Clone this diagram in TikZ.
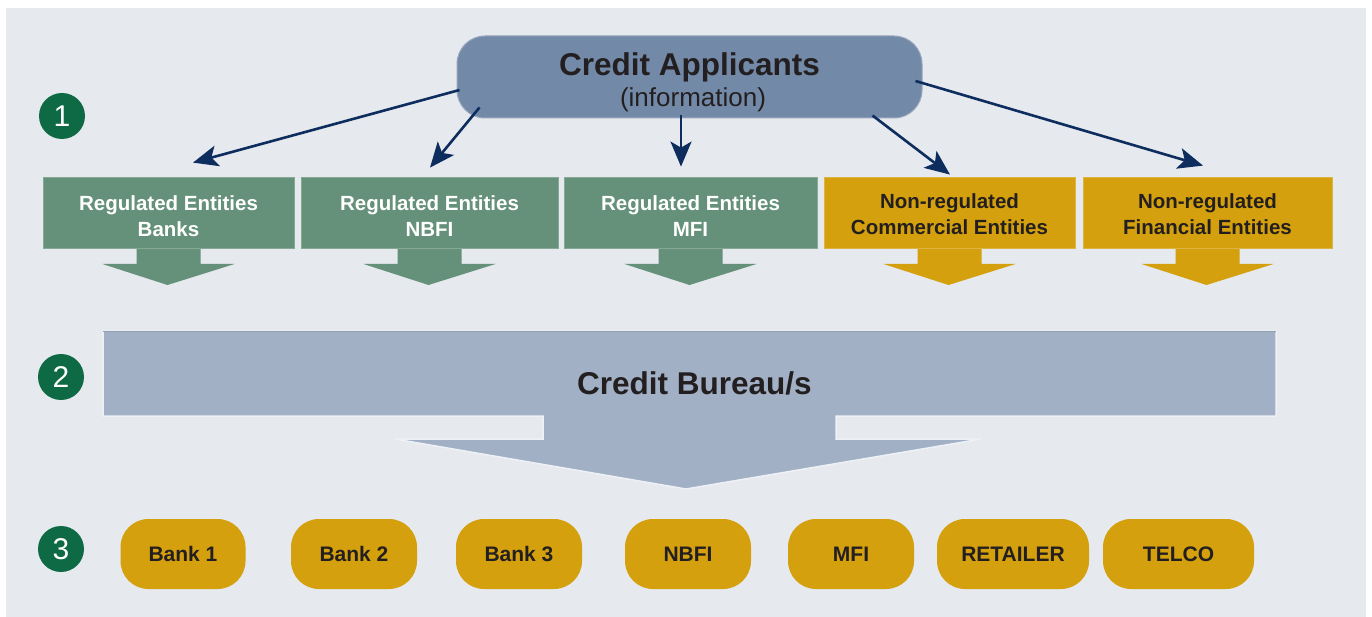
\documentclass[tikz,border=0pt]{standalone}
\usepackage{fontspec}
\setmainfont{Liberation Sans}
\usetikzlibrary{arrows.meta,calc}
\definecolor{bg}{HTML}{E6E9EE}
\definecolor{cafill}{HTML}{7389A8}
\definecolor{cabord}{HTML}{97A7BE}
\definecolor{grn}{HTML}{65917A}
\definecolor{grnb}{HTML}{86A996}
\definecolor{ylw}{HTML}{D4A00D}
\definecolor{ylwb}{HTML}{DDB443}
\definecolor{bur}{HTML}{A1B0C4}
\definecolor{burb}{HTML}{EEF1F5}
\definecolor{numc}{HTML}{0E6A44}
\definecolor{arrc}{HTML}{0D2D5E}
\definecolor{txt}{HTML}{231F20}
\tikzset{
  arr/.style={draw=arrc, line width=2.6pt, -{Stealth[length=25pt,width=21pt,inset=6pt]}},
  boxtxt/.style={font=\fontsize{20.5}{26}\selectfont\bfseries, align=center, inner sep=0pt},
  regbox/.style={rectangle, minimum height=71pt, fill=grn, draw=grnb, line width=0.8pt},
  nonbox/.style={rectangle, minimum height=71pt, fill=ylw, draw=ylwb, line width=0.8pt},
  pill/.style={rectangle, rounded corners=28pt, minimum height=70pt, fill=ylw, text=txt,
    font=\fontsize{21}{25}\selectfont\bfseries, inner sep=0pt},
  num/.style={circle, fill=numc, minimum size=46pt, inner sep=0pt, text=white,
    font=\fontsize{30}{30}\selectfont},
  capp/.style={rectangle, rounded corners=28pt, minimum width=465pt, minimum height=82pt,
    fill=cafill, draw=cabord, line width=1pt}
}
\begin{document}
\begin{tikzpicture}[x=1pt,y=-1pt]
\useasboundingbox (0,0) rectangle (1372,617);
\fill[bg] (6,8) rectangle (1366,617);

% step numbers
\node[num] (n1) at (62,116) {1};
\node[num] (n2) at (61,377) {2};
\node[num] (n3) at (61,549) {3};

% credit applicants
\node[capp] (ca) at (689.5,77) {};
\node[anchor=base, text=txt, font=\fontsize{31.5}{35}\selectfont\bfseries, inner sep=0pt] (catitle) at (689.5,76) {Credit Applicants};
\node[anchor=base, text=txt, font=\fontsize{26}{30}\selectfont, inner sep=0pt] (cainfo) at (693,107) {(information)};

% row-1 down arrows (drawn under the boxes)
\foreach \cx/\c in {168.5/grn,429.5/grn,690.5/grn,949.5/ylw,1207.5/ylw}{
  \fill[\c] (\cx-32,246) -- (\cx+32,246) -- (\cx+32,264) -- (\cx+66,264)
     -- (\cx-1,285) -- (\cx-66,264) -- (\cx-32,264) -- cycle;
}

% row-1 boxes
\node[regbox, minimum width=251pt, label={[boxtxt, text=white, yshift=-3.5pt]center:Regulated Entities\\Banks}] (b1) at (168.5,212.5) {};
\node[regbox, minimum width=257pt, label={[boxtxt, text=white, yshift=-3.5pt]center:Regulated Entities\\NBFI}] (b2) at (429.5,212.5) {};
\node[regbox, minimum width=253pt, label={[boxtxt, text=white, yshift=-3.5pt]center:Regulated Entities\\MFI}] (b3) at (690.5,212.5) {};
\node[nonbox, minimum width=251pt, label={[boxtxt, text=txt, yshift=-2pt]center:Non-regulated\\Commercial Entities}] (b4) at (949.5,212.5) {};
\node[nonbox, minimum width=249pt, label={[boxtxt, text=txt, yshift=-2pt]center:Non-regulated\\Financial Entities}] (b5) at (1207.5,212.5) {};

% connector endpoints
\coordinate (s1) at ($(ca.west)+(3,13)$);
\coordinate (s2) at ($(ca.south west)+(23,-11)$);
\coordinate (s3) at ($(ca.south)+(-8.5,-3)$);
\coordinate (s4) at ($(ca.south east)+(-50,-3)$);
\coordinate (s5) at ($(ca.east)+(-7,4)$);
\coordinate (e1) at ($(b1.north)+(24.5,-14)$);
\coordinate (e2) at ($(b2.north)+(0.5,-9)$);
\coordinate (e3) at ($(b3.north)+(-9.5,-10)$);
\coordinate (e4) at ($(b4.north)+(0.5,-2)$);
\coordinate (e5) at ($(b5.north)+(-4.5,-11)$);
\draw[arr] (s1) -- (e1);
\draw[arr] (s2) -- (e2);
\draw[arr] (s3) -- (e3);
\draw[arr] (s4) -- (e4);
\draw[arr] (s5) -- (e5);

% credit bureau
\filldraw[fill=bur, draw=burb, line width=1.5pt, line join=miter]
  (103,331) -- (1276,331) -- (1276,416) -- (836,416) -- (836,439) -- (981,439)
  -- (686,489) -- (395,439) -- (543,439) -- (543,416) -- (103,416) -- cycle;
\draw[bur!85!black!60!bur, line width=1pt] (103,331) -- (1276,331);
\node[anchor=base, text=txt, font=\fontsize{31.5}{35}\selectfont\bfseries, inner sep=0pt] (cb) at (694.5,394) {Credit Bureau/s};

% bottom pills
\node[pill, minimum width=125pt] (p1) at (183,554) {Bank 1};
\node[pill, minimum width=126pt] (p2) at (354,554) {Bank 2};
\node[pill, minimum width=126pt] (p3) at (519,554) {Bank 3};
\node[pill, minimum width=126pt] (p4) at (688,554) {NBFI};
\node[pill, minimum width=126pt] (p5) at (851,554) {MFI};
\node[pill, minimum width=152pt] (p6) at (1013,554) {RETAILER};
\node[pill, minimum width=151pt] (p7) at (1178.5,554) {TELCO};
\end{tikzpicture}
\end{document}
